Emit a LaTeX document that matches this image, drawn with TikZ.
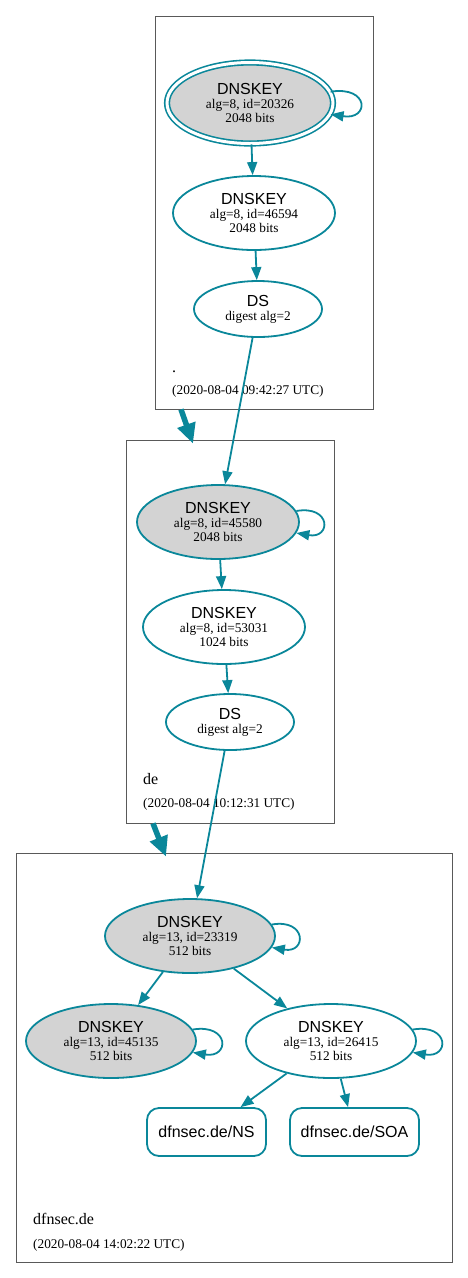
\documentclass[tikz,border=0pt]{standalone}
\usepackage{fontspec}
\setmainfont{Liberation Serif}
\setsansfont{Liberation Sans}
\usetikzlibrary{shapes.geometric,arrows.meta}
\definecolor{dnsteal}{HTML}{0A879A}
\definecolor{keygray}{HTML}{D3D3D3}
\newcommand{\keylabel}[2]{\textsf{\fontsize{16}{16}\selectfont DNSKEY}\\#1\\#2}
\newcommand{\dslabel}{\textsf{\fontsize{16}{16}\selectfont DS}\\digest alg=2}

\begin{document}
\begin{tikzpicture}[x=1pt,y=1pt,
  key/.style={draw=dnsteal,line width=1.8pt,ellipse,inner sep=0pt,minimum width=162pt,minimum height=74pt,align=center,font=\fontsize{13.3}{14}\selectfont},
  ksk/.style={key,fill=keygray},
  dsnode/.style={key,minimum width=128pt,minimum height=56pt},
  rrset/.style={draw=dnsteal,line width=1.8pt,rounded corners=12pt,minimum height=48pt,inner sep=0pt,font=\sffamily\fontsize{16}{16}\selectfont},
  zone/.style={draw=black!65,line width=0.8pt},
  zonename/.style={anchor=base west,inner sep=0pt,font=\fontsize{16}{16}\selectfont},
  zonetime/.style={anchor=base west,inner sep=0pt,font=\fontsize{13.3}{14}\selectfont},
  arr/.style={draw=dnsteal,line width=1.8pt,-{Triangle[length=13pt,width=10pt]}},
  bigarr/.style={draw=dnsteal,line width=5.5pt,-{Triangle[length=20pt,width=18pt]}}]
  \useasboundingbox (0,0) rectangle (468,-1278);

  % zones
  \node[zone,minimum width=218pt,minimum height=393pt] (root) at (264,-212.5) {};
  \node[zone,minimum width=208pt,minimum height=383pt] (de) at (230,-631.5) {};
  \node[zone,minimum width=436pt,minimum height=409pt] (dfnsec) at (234,-1057.5) {};

  % root zone
  \node[ksk,double=white,double distance=3pt,line width=1.6pt,minimum width=166pt,minimum height=81pt] (k20326) at (250,-103) {\keylabel{alg=8, id=20326}{2048 bits}};
  \node[key] (k46594) at (254,-213) {\keylabel{alg=8, id=46594}{2048 bits}};
  \node[dsnode] (dsroot) at (258,-309) {\dslabel};
  \node[zonename] (rootname) at (172,-372) {.};
  \node[zonetime] (roottime) at (172,-394) {(2020-08-04 09:42:27 UTC)};

  % de zone
  \node[ksk] (k45580) at (218,-522) {\keylabel{alg=8, id=45580}{2048 bits}};
  \node[key] (k53031) at (224,-627) {\keylabel{alg=8, id=53031}{1024 bits}};
  \node[dsnode] (dsde) at (230,-722) {\dslabel};
  \node[zonename] (dename) at (143,-784) {de};
  \node[zonetime] (detime) at (143,-807) {(2020-08-04 10:12:31 UTC)};

  % dfnsec.de zone
  \node[ksk,minimum width=170pt] (k23319) at (190,-936) {\keylabel{alg=13, id=23319}{512 bits}};
  \node[ksk,minimum width=170pt] (k45135) at (111,-1041) {\keylabel{alg=13, id=45135}{512 bits}};
  \node[key,minimum width=170pt] (k26415) at (331,-1041) {\keylabel{alg=13, id=26415}{512 bits}};
  \node[rrset,minimum width=119pt] (ns) at (206.5,-1132) {dfnsec.de/NS};
  \node[rrset,minimum width=129pt] (soa) at (354.5,-1132) {dfnsec.de/SOA};
  \node[zonename] (dfnsecname) at (33,-1224) {dfnsec.de};
  \node[zonetime] (dfnsectime) at (33,-1248) {(2020-08-04 14:02:22 UTC)};

  % edges
  \draw[arr] (k20326) -- (k46594);
  \draw[arr] (k46594) -- (dsroot);
  \draw[arr] (dsroot) -- (k45580);
  \draw[arr] (k45580) -- (k53031);
  \draw[arr] (k53031) -- (dsde);
  \draw[arr] (dsde) -- (k23319);
  \draw[arr] (k23319) -- (k45135);
  \draw[arr] (k23319) -- (k26415);
  \draw[arr] (k26415) -- (ns);
  \draw[arr] (k26415) -- (soa);

  % self signatures
  \draw[arr] (k20326.8) .. controls +(39,6) and +(39,-6) .. (k20326.-8);
  \draw[arr] (k45580.8) .. controls +(35,6) and +(35,-6) .. (k45580.-8);
  \draw[arr] (k23319.8) .. controls +(35,6) and +(35,-6) .. (k23319.-8);
  \draw[arr] (k45135.8) .. controls +(37,6) and +(37,-6) .. (k45135.-8);
  \draw[arr] (k26415.8) .. controls +(37,6) and +(37,-6) .. (k26415.-8);

  % delegations
  \draw[bigarr] ([xshift=-83pt]root.south) -- ([xshift=-37pt,yshift=-4pt]de.north);
  \draw[bigarr] ([xshift=-77pt]de.south) -- ([xshift=-68pt,yshift=-4pt]dfnsec.north);
\end{tikzpicture}
\end{document}
